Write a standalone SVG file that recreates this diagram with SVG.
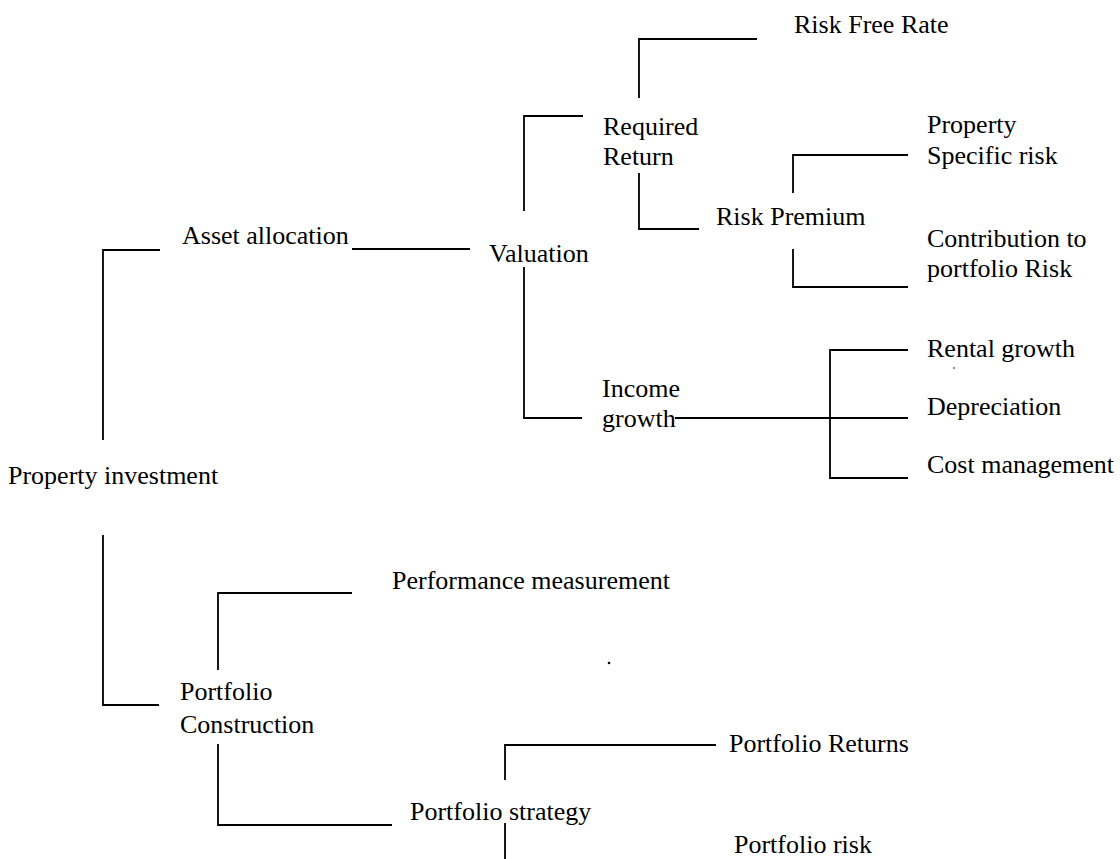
<svg xmlns="http://www.w3.org/2000/svg" width="1120" height="859" viewBox="0 0 1120 859">
<style>
text{font-family:"Liberation Serif","Times New Roman",serif;font-size:26px;fill:#000}
.c path{fill:none;stroke:#000;stroke-width:1.8}
</style>
<rect width="1120" height="859" fill="#fff"/>
<g class="c" id="connectors">
<path d="M103,440 V250 H160"/>
<path d="M103,535 V705 H159"/>
<path d="M352,249 H470"/>
<path d="M524,211 V116 H583"/>
<path d="M524,267 V418 H582"/>
<path d="M639,98 V39 H757"/>
<path d="M639,173 V229 H699"/>
<path d="M793,193 V155 H908"/>
<path d="M793,249 V287 H908"/>
<path d="M675,418 H908"/>
<path d="M908,350 H830 V478 H908"/>
<path d="M218,670 V593 H352"/>
<path d="M218,744 V825 H392"/>
<path d="M505,780 V745 H716"/>
<path d="M505,823 V859"/>
</g>
<g id="property-investment"><text x="8" y="484">Property investment</text></g>
<g id="asset-allocation"><text x="182" y="244">Asset allocation</text></g>
<g id="valuation"><text x="489" y="262">Valuation</text></g>
<g id="required-return"><text x="603" y="135">Required</text><text x="603" y="165">Return</text></g>
<g id="risk-free-rate"><text x="794" y="33">Risk Free Rate</text></g>
<g id="risk-premium"><text x="716" y="225">Risk Premium</text></g>
<g id="property-specific-risk"><text x="927" y="133">Property</text><text x="927" y="164">Specific risk</text></g>
<g id="contribution"><text x="927" y="247">Contribution to</text><text x="927" y="277">portfolio Risk</text></g>
<g id="income-growth"><text x="602" y="397">Income</text><text x="602" y="427">growth</text></g>
<g id="rental-growth"><text x="927" y="357">Rental growth</text></g>
<g id="depreciation"><text x="927" y="415">Depreciation</text></g>
<g id="cost-management"><text x="927" y="473">Cost management</text></g>
<g id="performance-measurement"><text x="392" y="589">Performance measurement</text></g>
<g id="portfolio-construction"><text x="180" y="700">Portfolio</text><text x="180" y="733">Construction</text></g>
<g id="portfolio-strategy"><text x="410" y="820">Portfolio strategy</text></g>
<g id="portfolio-returns"><text x="729" y="752">Portfolio Returns</text></g>
<g id="portfolio-risk"><text x="734" y="853">Portfolio risk</text></g>
<circle cx="609" cy="663" r="1.3" fill="#000"/>
<circle cx="954" cy="368" r="0.9" fill="#555"/>
</svg>
